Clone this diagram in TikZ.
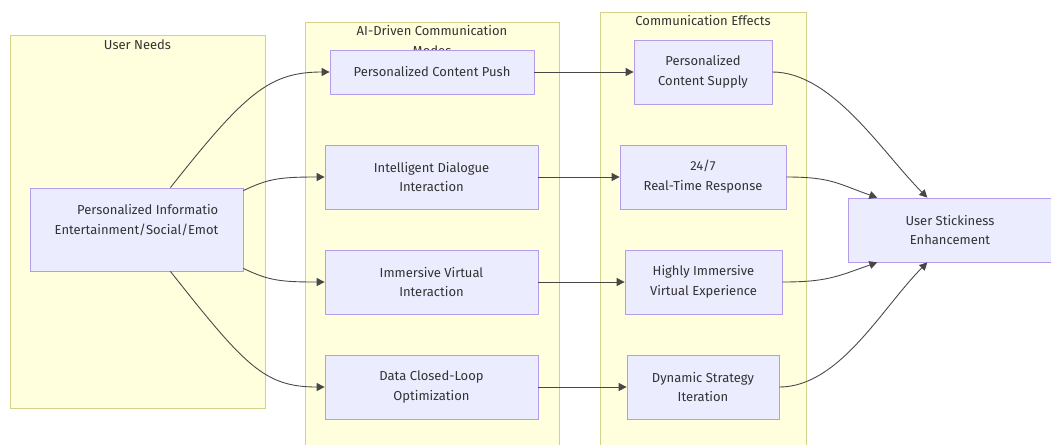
\documentclass[tikz,border=0pt]{standalone}
\usepackage{fontspec}
\setmainfont{Fira Sans}
\usepackage{tikz}
\definecolor{clustercolor}{HTML}{FFFFDE}
\definecolor{clusterline}{HTML}{D2D28A}
\definecolor{boxcolor}{HTML}{ECECFF}
\definecolor{boxline}{HTML}{B39DEB}
\definecolor{linkcolor}{HTML}{333333}
\usetikzlibrary{arrows.meta, positioning}

\begin{document}
\begin{tikzpicture}[
    x=0.02cm, y=-0.02cm,
    font=\fontsize{7.4}{11.3}\selectfont, text=linkcolor,
    cluster/.style={draw=clusterline, fill=clustercolor, line width=0.5pt},
    title/.style={anchor=north, inner sep=0pt},
    box/.style={rectangle, draw=boxline, fill=boxcolor, line width=0.45pt, minimum height=1.28cm, align=center, inner sep=0pt},
    link/.style={draw=linkcolor!90, line width=0.5pt, -{Triangle[length=4.5pt, width=4.5pt]}}
]
    \clip (0,0) rectangle (1051,444);

    % Groups
    \draw[cluster] (10,35) rectangle (265,408);
    \node[title] (needtitle) at (137.5,39) {User Needs};
    \draw[cluster] (305,22) rectangle (559,450);
    \node[title, align=center] (modetitle) at (432,25) {AI-Driven Communication\\Modes};
    \draw[cluster] (600,12) rectangle (806,450);
    \node[title] (effecttitle) at (703,15) {Communication Effects};

    % User needs
    \node[box, minimum width=4.26cm, minimum height=1.66cm, align=right] (need) at (136.5,229.5)
        {Personalized Informatio\\Entertainment/Social/Emot\\\mbox{}};

    % Communication modes
    \node[box, minimum width=4.08cm, minimum height=0.88cm] (push) at (432,72) {Personalized Content Push};
    \node[box, minimum width=4.26cm] (dialog) at (431.5,177) {Intelligent Dialogue\\Interaction};
    \node[box, minimum width=4.26cm] (virtual) at (431.5,282) {Immersive Virtual\\Interaction};
    \node[box, minimum width=4.26cm] (loop) at (431.5,387) {Data Closed-Loop\\Optimization};

    % Effects
    \node[box, minimum width=2.76cm] (supply) at (703,72) {Personalized\\Content Supply};
    \node[box, minimum width=3.32cm] (realtime) at (703,177) {24/7\\Real-Time Response};
    \node[box, minimum width=3.14cm] (experience) at (703.5,282) {Highly Immersive\\Virtual Experience};
    \node[box, minimum width=3.04cm] (iteration) at (703,387) {Dynamic Strategy\\Iteration};

    % Outcome
    \node[box, minimum width=4.08cm] (stick) at (950,230) {User Stickiness\\Enhancement};

    % Needs to modes
    \draw[link] (need.51) .. controls +(75,-95) and +(-60,0) .. (push.west);
    \draw[link] (need.20) .. controls +(25,-12) and +(-45,0) .. (dialog.west);
    \draw[link] (need.-20) .. controls +(25,12) and +(-45,0) .. (virtual.west);
    \draw[link] (need.-51) .. controls +(75,95) and +(-60,0) .. (loop.west);

    % Modes to effects
    \draw[link] (push) -- (supply);
    \draw[link] (dialog) -- (realtime);
    \draw[link] (virtual) -- (experience);
    \draw[link] (loop) -- (iteration);

    % Effects to outcome
    \draw[link] (supply.east) .. controls +(60,0) and +(-45,-45) .. (stick.125);
    \draw[link] (realtime.east) .. controls +(45,0) and +(-40,-14) .. (stick.156);
    \draw[link] (experience.east) .. controls +(45,0) and +(-40,14) .. (stick.-156);
    \draw[link] (iteration.east) .. controls +(60,0) and +(-45,45) .. (stick.-125);
\end{tikzpicture}
\end{document}
